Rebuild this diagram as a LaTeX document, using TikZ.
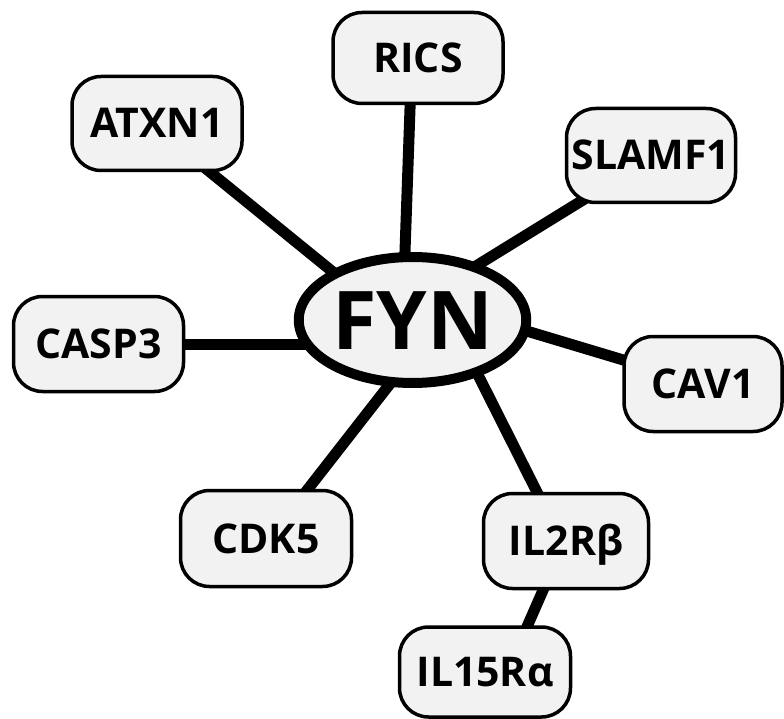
\documentclass[tikz,border=0pt]{standalone}
\usepackage{fontspec}
\setmainfont{Open Sans}
\usetikzlibrary{shapes.geometric,backgrounds}
\definecolor{boxfill}{HTML}{F2F2F2}
\tikzset{
  gene/.style={draw=black, line width=3.5pt, fill=boxfill, rounded corners=29pt,
    inner sep=0pt, font=\fontsize{41}{41}\selectfont\bfseries, text height=29pt, text depth=0pt},
  hub/.style={draw=black, line width=10pt, fill=boxfill, ellipse, inner sep=0pt,
    minimum width=225pt, minimum height=126pt,
    font=\fontsize{81}{81}\selectfont\bfseries, text height=58pt, text depth=0pt},
  link/.style={line width=11pt, draw=black}
}
\begin{document}
\begin{tikzpicture}[x=1pt,y=-1pt]
\useasboundingbox (0,0) rectangle (784,719);
\node[hub] (fyn) at (412.5,320) {FYN};
\node[gene, minimum width=170pt, minimum height=91pt] (rics) at (418,58) {RICS};
\node[gene, minimum width=170pt, minimum height=94pt] (atxn) at (157,123.5) {ATXN1};
\node[gene, minimum width=169pt, minimum height=94pt] (slamf) at (651,155.5) {SLAMF1};
\node[gene, minimum width=170pt, minimum height=95pt] (casp) at (98.5,344) {CASP3};
\node[gene, minimum width=158pt, minimum height=95pt] (cav) at (703,384) {CAV1};
\node[gene, minimum width=171pt, minimum height=96pt] (cdk) at (266,538.5) {CDK5};
\node[gene, minimum width=165pt, minimum height=95pt] (iltwo) at (566,541) {IL2Rβ};
\node[gene, minimum width=171pt, minimum height=90pt] (ilfifteen) at (485,672) {IL15Rα};
\begin{scope}[on background layer]
\draw[link] ([shift={(-7,22)}]rics.center) -- ([shift={(-8.5,-40)}]fyn.center);
\draw[link] ([shift={(29,29)}]atxn.center) -- ([shift={(-52.5,-26)}]fyn.center);
\draw[link] ([shift={(-51,34)}]slamf.center) -- ([shift={(37.5,-38)}]fyn.center);
\draw[link] (casp.center) -- (casp.center -| fyn.center);
\draw[link] ([shift={(-63,-19)}]cav.center) -- ([shift={(87.5,3)}]fyn.center);
\draw[link] ([shift={(26,-29)}]cdk.center) -- ([shift={(-12.5,51)}]fyn.center);
\draw[link] ([shift={(-20,-31)}]iltwo.center) -- ([shift={(59.5,43)}]fyn.center);
\draw[link] ([shift={(-15,31)}]iltwo.center) -- ([shift={(34,-27)}]ilfifteen.center);
\end{scope}
\end{tikzpicture}
\end{document}
